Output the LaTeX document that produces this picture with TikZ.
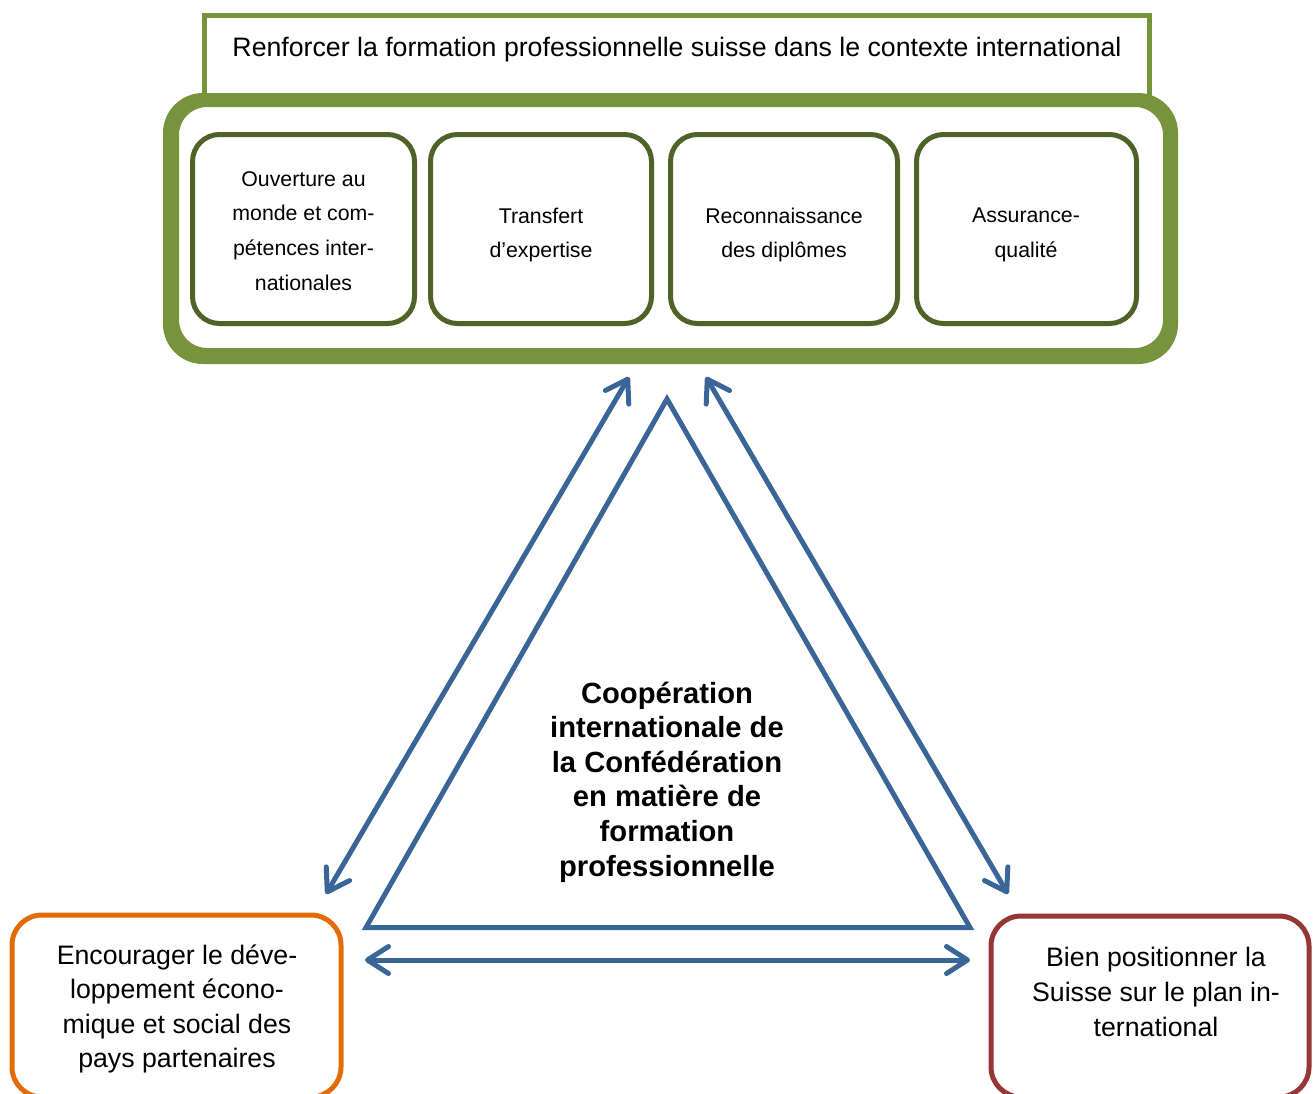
\documentclass[tikz,border=0pt]{standalone}
\usepackage{fontspec}
\setmainfont{Liberation Sans}
\usetikzlibrary{arrows.meta}
\definecolor{outergreen}{HTML}{77933C}
\definecolor{innergreen}{HTML}{4F6228}
\definecolor{flowblue}{HTML}{3A6597}
\definecolor{goalorange}{HTML}{E36C09}
\definecolor{goalred}{HTML}{953735}
\begin{document}
\begin{tikzpicture}[x=1pt,y=-1pt,
  frame/.style={draw, line width=5pt, inner sep=0pt, outer sep=0pt},
  titleframe/.style={frame, draw=outergreen, rectangle, anchor=north west},
  pillar/.style={frame, draw=innergreen, rounded corners=27pt,
    minimum width=#1, minimum height=189pt},
  pillartext/.style={align=center, font=\fontsize{21.3}{34.7}\selectfont},
  goalframe/.style={frame, rounded corners=30pt, anchor=north west},
  goaltext/.style={align=center, font=\fontsize{26.7}{34.6}\selectfont},
  twoway/.style={draw=flowblue, line width=5pt, line cap=round,
    {Straight Barb[length=21pt, width=27pt, round]}-{Straight Barb[length=21pt, width=27pt, round]}}
]
\useasboundingbox (0,0) rectangle (1313,1093);

% heading frame above the main panel
\node[titleframe, minimum width=944.5pt, minimum height=86pt] (title) at (204.5,15.5) {};
\node[anchor=base, font=\fontsize{26.7}{30}\selectfont] (titletext) at (677,56)
  {Renforcer la formation professionnelle suisse dans le contexte international};

% thick rounded panel holding the four pillars
\path[fill=outergreen, even odd rule]
  [rounded corners=40pt] (163,93) rectangle (1178,364)
  [rounded corners=28pt] (179,107) rectangle (1163,348);

% the four pillars
\node[pillar=222pt] (p1) at (303.5,229) {};
\node[pillartext] (p1t) at (303.5,231) {Ouverture au\\monde et com-\\pétences inter-\\nationales};
\node[pillar=221pt] (p2) at (541,229) {};
\node[pillartext] (p2t) at (541,235) {Transfert\\d’expertise};
\node[pillar=227pt] (p3) at (784,229) {};
\node[pillartext] (p3t) at (784,235) {Reconnaissance\\des diplômes};
\node[pillar=220pt] (p4) at (1026.5,229) {};
\node[pillartext] (p4t) at (1026,235) {Assurance-\\qualité};

% central triangle
\coordinate (apex) at (667,399);
\coordinate (base left) at (366,927.5);
\coordinate (base right) at (970,927.5);
\draw[flowblue, line width=5pt, line join=miter] (apex) -- (base left) -- (base right) -- cycle;
\node[align=center, font=\bfseries\fontsize{29.2}{34.6}\selectfont] (core) at (667,782)
  {Coopération\\internationale de\\la Confédération\\en matière de\\formation\\professionnelle};

% the two goals at the base (their lower edge runs just past the page)
\node[goalframe, draw=goalorange, minimum width=329pt, minimum height=182pt] (dev) at (12,915) {};
\node[goaltext] (devtext) at (177,1009)
  {Encourager le déve-\\loppement écono-\\mique et social des\\pays partenaires};
\node[goalframe, draw=goalred, minimum width=318pt, minimum height=181pt] (pos) at (991,916) {};
\node[goaltext] (postext) at (1156,992)
  {Bien positionner la\\Suisse sur le plan in-\\ternational};

% exchanges between the three corners
\coordinate (up left) at (629,377);
\coordinate (down left) at (326,894);
\coordinate (up right) at (706,377);
\coordinate (down right) at (1008,894);
\coordinate (across left) at (365,960);
\coordinate (across right) at (970,960);
\draw[twoway] (up left) -- (down left);
\draw[twoway] (up right) -- (down right);
\draw[twoway] (across left) -- (across right);
\end{tikzpicture}
\end{document}
